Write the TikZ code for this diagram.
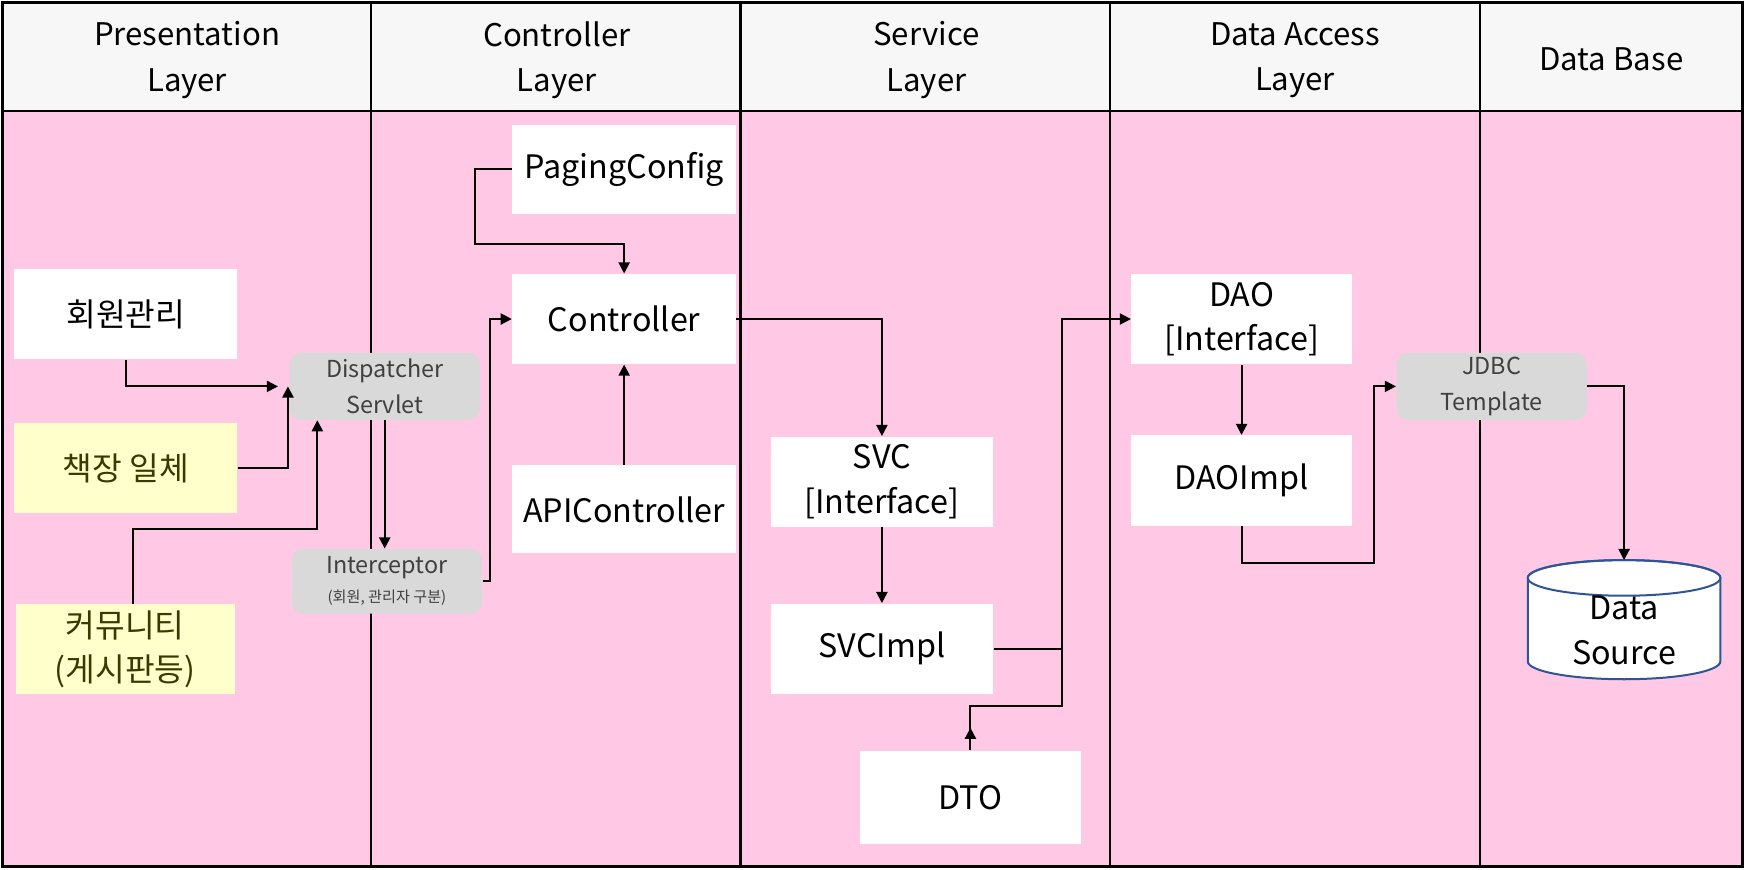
\documentclass[tikz,border=0pt]{standalone}
\usepackage{fontspec}
\setmainfont{Noto Sans CJK KR}
\usetikzlibrary{arrows.meta,calc}
\definecolor{pinkbg}{HTML}{FFC9E5}
\definecolor{headbg}{HTML}{F7F7F7}
\definecolor{yellowbox}{HTML}{FFFFCC}
\definecolor{graybox}{HTML}{D9D9D9}
\definecolor{yeltext}{HTML}{3A3A00}
\definecolor{dsblue}{HTML}{2F5597}
\definecolor{graytext}{HTML}{404040}
\begin{document}
\begin{tikzpicture}[x={(0.5pt,0)}, y={(0,-0.5pt)},
 box/.style={fill=white, inner sep=0pt, align=center, minimum width=100pt, minimum height=40.5pt, font=\fontsize{14.5pt}{20pt}\selectfont},
 ybox/.style={box, fill=yellowbox, text=yeltext},
 gbox/.style={fill=graybox, rounded corners=5pt, inner sep=0pt, align=center, minimum width=85.5pt, minimum height=30pt, text=graytext, font=\fontsize{10.5pt}{16pt}\selectfont},
 head/.style={align=center, font=\fontsize{14pt}{20.5pt}\selectfont},
 arr/.style={line width=0.9pt, -{Triangle[length=5pt,width=5pt]}},
 conn/.style={line width=0.9pt},
 grid/.style={line width=1pt}]
\useasboundingbox (0,0) rectangle (1568,781);
% background
\fill[headbg] (2,2) rectangle (1565,100);
\fill[pinkbg] (2,100) rectangle (1565,778);
\foreach \cx in {333,665,997,1329} \draw[grid] (\cx,2) -- (\cx,778);
\draw[grid] (2,100) -- (1565,100);
\draw[line width=1.3pt] (2,2) rectangle (1565,778);
% headers
\node[head] (h1) at (168,54) {Presentation\\Layer};
\node[head] (h2) at (500,54) {Controller\\Layer};
\node[head] (h3) at (832,54) {Service\\Layer};
\node[head] (h4) at (1163,54) {Data Access\\Layer};
\node[head] (h5) at (1447,53) {Data Base};
% presentation
\node[box] (hw) at (113,282) {회원관리};
\node[ybox] (bk) at (113,420.5) {책장 일체};
\node[ybox, minimum width=98.5pt] (cm) at (112.5,583) {커뮤니티\\(게시판등)};
% gray boxes
\node[gbox] (disp) at (345.5,347) {Dispatcher\\Servlet};
\node[gbox, minimum height=29pt] (ic) at (347.5,522) {Interceptor\\[-3pt]{\fontsize{6.8pt}{8pt}\selectfont (회원, 관리자 구분)}};
% controller layer
\node[box, minimum width=100.5pt, minimum height=40pt] (pg) at (560.5,152) {PagingConfig};
\node[box, minimum width=100.5pt] (ctrl) at (560.5,286.5) {Controller};
\node[box, minimum width=100.5pt, minimum height=39.5pt] (api) at (560.5,457.5) {APIController};
% service layer
\node[box] (svc) at (792,432.5) {SVC\\{[}Interface{]}};
\node[box] (svci) at (792,582.5) {SVCImpl};
\node[box, minimum width=99.5pt, minimum height=42pt] (dto) at (871.5,716) {DTO};
% data access
\node[box, minimum width=99pt] (dao) at (1115,286.5) {DAO\\{[}Interface{]}};
\node[box, minimum width=99pt] (daoi) at (1115,431.5) {DAOImpl};
\node[gbox] (jdbc) at (1339.5,347) {JDBC\\Template};
% data source cylinder
\filldraw[fill=white, draw=dsblue, line width=0.9pt] (1372,519) -- (1372,594)
  arc[start angle=180, end angle=360, x radius=43.25pt, y radius=8pt] -- (1545,519)
  arc[start angle=0, end angle=180, x radius=43.25pt, y radius=8pt] -- cycle;
\draw[dsblue, line width=0.9pt] (1458.5,519) ellipse[x radius=43.25pt, y radius=8pt];
\node[align=center, font=\fontsize{14.5pt}{20pt}\selectfont] (ds) at (1458.5,566) {Data\\Source};
\coordinate (dstop) at (1458.5,503);
% coordinates for bends
\coordinate (k3) at (285,475);
\coordinate (k5) at (440,522);
\coordinate (k6) at (427,219);
\coordinate (k10) at (954,287);
\coordinate (k11) at (954,634);
\coordinate (k13) at (1234,506);
% connectors
\draw[arr] (hw.south) |- ([xshift=-5pt]disp.west);
\draw[arr] (bk.east) -| ([xshift=-0.5pt]disp.west);
\draw[arr] ([xshift=3.25pt]cm.north) |- (k3) -- (k3 |- disp.south);
\draw[arr] (disp.south) -- (disp.south |- ic.north);
\draw[arr] (ic.east) -- (k5) |- (ctrl.west);
\draw[arr] (pg.west) -| (k6) -- (k6 -| ctrl.north) -- (ctrl.north);
\draw[arr] (api.north) -- (ctrl.south);
\draw[arr] (ctrl.east) -| (svc.north);
\draw[arr] (svc.south) -- (svci.north);
\draw[arr] (svci.east) -| (k10 |- dao.west) -- (dao.west);
\draw[conn] (dto.north) |- (k11) -- (k11 |- svci.east);
\draw[arr] (dto.north) -- ([yshift=10pt]dto.north);
\draw[arr] (dao.south) -- (daoi.north);
\draw[arr] (daoi.south) |- (k13) |- (jdbc.west);
\draw[arr] (jdbc.east) -| (dstop);
\end{tikzpicture}
\end{document}
